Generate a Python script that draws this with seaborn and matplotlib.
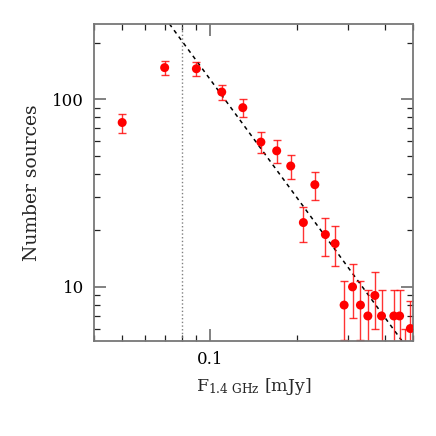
import numpy as np
import matplotlib
matplotlib.use('Agg')
import matplotlib.pyplot as plt
import seaborn as sns

# flux bins [mJy], source counts and poisson errors
flux = [0.05, 0.07, 0.09, 0.11, 0.13, 0.15, 0.17, 0.19, 0.21, 0.23, 0.25,
        0.27, 0.29, 0.31, 0.33, 0.35, 0.37, 0.39, 0.43, 0.45, 0.47, 0.49]
counts = [75, 147, 145, 109, 90, 59, 53, 44, 22, 35, 19,
          17, 8, 10, 8, 7, 9, 7, 7, 7, 4, 6]
errors = [8.7, 12.1, 12.0, 10.4, 9.5, 7.7, 7.3, 6.6, 4.7, 5.9, 4.4,
          4.1, 2.8, 3.2, 2.8, 2.6, 3.0, 2.6, 2.6, 2.6, 2.0, 2.45]

# completeness limit and power-law fit (end points)
flux_limit = 0.08
line_x = [0.07, 0.5]
line_y = [272, 4.3]

sns.set_style('ticks')
plt.rcParams['font.family'] = ['DejaVu Serif']
plt.rcParams['mathtext.fontset'] = 'dejavuserif'

fig = plt.figure(figsize=(4.36, 4.36), dpi=100)
ax = fig.add_axes([0.2156, 0.2179, 0.7314, 0.7271])

ax.errorbar(flux, counts, yerr=errors, fmt='none', ecolor='red', alpha=0.8,
            elinewidth=1.0, capsize=3, capthick=1.0, zorder=2)
sns.scatterplot(x=flux, y=counts, ax=ax, color='red', s=42, edgecolor='none', zorder=3)

ax.axvline(flux_limit, color='gray', linestyle=':', linewidth=1.0, zorder=1)
sns.lineplot(x=line_x, y=line_y, ax=ax, color='black', linewidth=1.1,
             dashes=False, zorder=1)
ax.lines[-1].set_dashes((2.6, 2.6))

ax.set_xscale('log')
ax.set_yscale('log')
ax.set_xlim(0.04, 0.5)
ax.set_ylim(5.15, 251)

ax.set_xticks([0.1])
ax.set_xticklabels(['0.1'])
ax.set_yticks([10, 100])
ax.set_yticklabels(['10', '100'])
ax.xaxis.set_minor_locator(matplotlib.ticker.LogLocator(base=10, subs=np.arange(2, 10)))
ax.yaxis.set_minor_locator(matplotlib.ticker.LogLocator(base=10, subs=np.arange(2, 10)))
ax.xaxis.set_minor_formatter(matplotlib.ticker.NullFormatter())
ax.yaxis.set_minor_formatter(matplotlib.ticker.NullFormatter())

ax.tick_params(which='both', direction='in', top=True, right=True,
               labelsize=12, labelcolor='black')
ax.tick_params(which='major', length=8.5, width=1.3, pad=7, colors='#777777')
ax.tick_params(which='major', labelcolor='black')
ax.tick_params(which='minor', length=4.5, width=0.9, colors='#222222')
for sp in ax.spines.values():
    sp.set_visible(True)
    sp.set_color('#777777')
    sp.set_linewidth(1.3)

ax.set_xlabel(r'F$_{\rm 1.4\ GHz}$ [mJy]', fontsize=12.5, labelpad=6)
ax.set_ylabel('Number sources', fontsize=13.5, labelpad=8)

fig.savefig('out.png', dpi=100)
